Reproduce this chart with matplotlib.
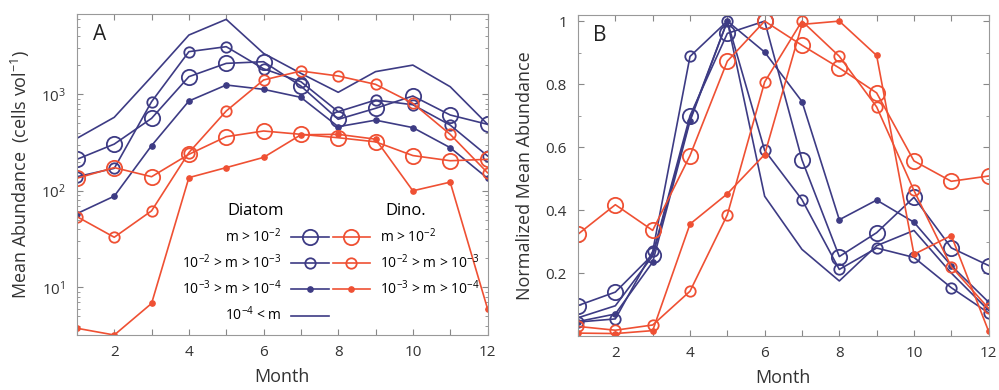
import matplotlib
matplotlib.use('Agg')
import matplotlib.pyplot as plt
import numpy as np
from matplotlib.ticker import LogLocator, NullFormatter, MultipleLocator

plt.rcParams['font.family'] = ['Open Sans', 'DejaVu Sans']
plt.rcParams['mathtext.default'] = 'regular'

months = np.arange(1, 13)
month_labels = ['' if m % 2 else str(m) for m in months]

# Diatom mean abundance (cells vol^-1), by size class
diat_large = [212, 305, 564, 1525, 2095, 2180, 1220, 551, 716, 961, 611, 489]
diat_mid = [140, 171, 839, 2770, 3120, 1840, 1352, 661, 873, 780, 480, 230]
diat_small = [58, 88, 294, 853, 1250, 1127, 931, 462, 540, 452, 280, 135]
diat_tiny = [350, 578, 1525, 4120, 5990, 2660, 1650, 1050, 1720, 2010, 1200, 490]
# Dinoflagellates
dino_large = [135, 174, 140, 239, 364, 417, 385, 355, 322, 232, 205, 212]
dino_mid = [54, 33, 62, 249, 672, 1408, 1745, 1550, 1270, 807, 385, 154]
dino_small = [3.76, 3.2, 6.8, 137, 174, 222, 381, 385, 343, 100, 123, 6.0]

labels = ['m > 10$^{-2}$', '10$^{-2}$ > m > 10$^{-3}$',
          '10$^{-3}$ > m > 10$^{-4}$', '10$^{-4}$ < m']

navy = '#3d3b84'
red = '#ef5033'
styles = [dict(marker='o', ms=11, mfc='none', mew=1.3),
          dict(marker='o', ms=7.5, mfc='none', mew=1.3),
          dict(marker='o', ms=3.8, mew=1.0),
          dict(marker='')]

fig = plt.figure(figsize=(9.99, 3.9), dpi=100)
ax1 = fig.add_axes([0.077, 0.141, 0.411, 0.823])
ax2 = fig.add_axes([0.5786, 0.138, 0.411, 0.824])

diat = [diat_large, diat_mid, diat_small, diat_tiny]
dino = [dino_large, dino_mid, dino_small]

h_diat, h_dino = [], []
for vals, st, lab in zip(diat, styles, labels):
    v = np.array(vals, dtype=float)
    h, = ax1.plot(months, v, color=navy, lw=1.2, label=lab, **st)
    h_diat.append(h)
    ax2.plot(months, v / v.max(), color=navy, lw=1.2, **st)
for vals, st, lab in zip(dino, styles, labels):
    v = np.array(vals, dtype=float)
    h, = ax1.plot(months, v, color=red, lw=1.2, label=lab, **st)
    h_dino.append(h)
    ax2.plot(months, v / v.max(), color=red, lw=1.2, **st)

# Panel A
ax1.set_yscale('log')
ax1.set_ylim(3.2, 6800)
ax1.set_xlim(1, 12)
ax1.yaxis.set_major_locator(LogLocator(base=10, subs=[1.0]))
ax1.yaxis.set_minor_locator(LogLocator(base=10, subs=np.arange(2, 10)))
ax1.yaxis.set_minor_formatter(NullFormatter())
ax1.set_ylabel('Mean Abundance  (cells vol$^{-1}$)', fontsize=13, color='#333', labelpad=6)
ax1.text(0.038, 0.935, 'A', transform=ax1.transAxes, fontsize=15, va='center', color='#222')

leg_kw = dict(frameon=False, fontsize=10, handlelength=2.7, handletextpad=0.7,
              labelspacing=0.55, borderpad=0, borderaxespad=0,
              title_fontproperties={'size': 12})
leg1 = ax1.legend(handles=h_diat, title='Diatom', markerfirst=False,
                  loc='upper right', bbox_to_anchor=(0.613, 0.41), **leg_kw)
ax1.add_artist(leg1)
ax1.legend(handles=h_dino, title='Dino.', markerfirst=True,
           loc='upper left', bbox_to_anchor=(0.623, 0.41), **leg_kw)

# Panel B
ax2.set_xlim(1, 12)
ax2.set_ylim(0, 1.02)
ax2.set_yticks([0.2, 0.4, 0.6, 0.8, 1.0])
ax2.set_yticklabels(['0.2', '0.4', '0.6', '0.8', '1'])
ax2.yaxis.set_minor_locator(MultipleLocator(0.1))
ax2.set_ylabel('Normalized Mean Abundance', fontsize=13, color='#333', labelpad=8)
ax2.text(0.036, 0.935, 'B', transform=ax2.transAxes, fontsize=15, va='center', color='#222')

for ax in (ax1, ax2):
    ax.set_xticks(months)
    ax.set_xticklabels(month_labels)
    ax.set_xlabel('Month', fontsize=13, color='#333', labelpad=6)
    ax.tick_params(which='both', direction='in', top=True, right=True,
                   color='#888', labelcolor='#333', labelsize=11)
    ax.tick_params(which='major', length=4)
    ax.tick_params(which='minor', length=2.5)
    ax.tick_params(axis='y', pad=8)
    ax.tick_params(axis='x', pad=7)
    for s in ax.spines.values():
        s.set_color('#999')

fig.savefig('out.png', dpi=100)
